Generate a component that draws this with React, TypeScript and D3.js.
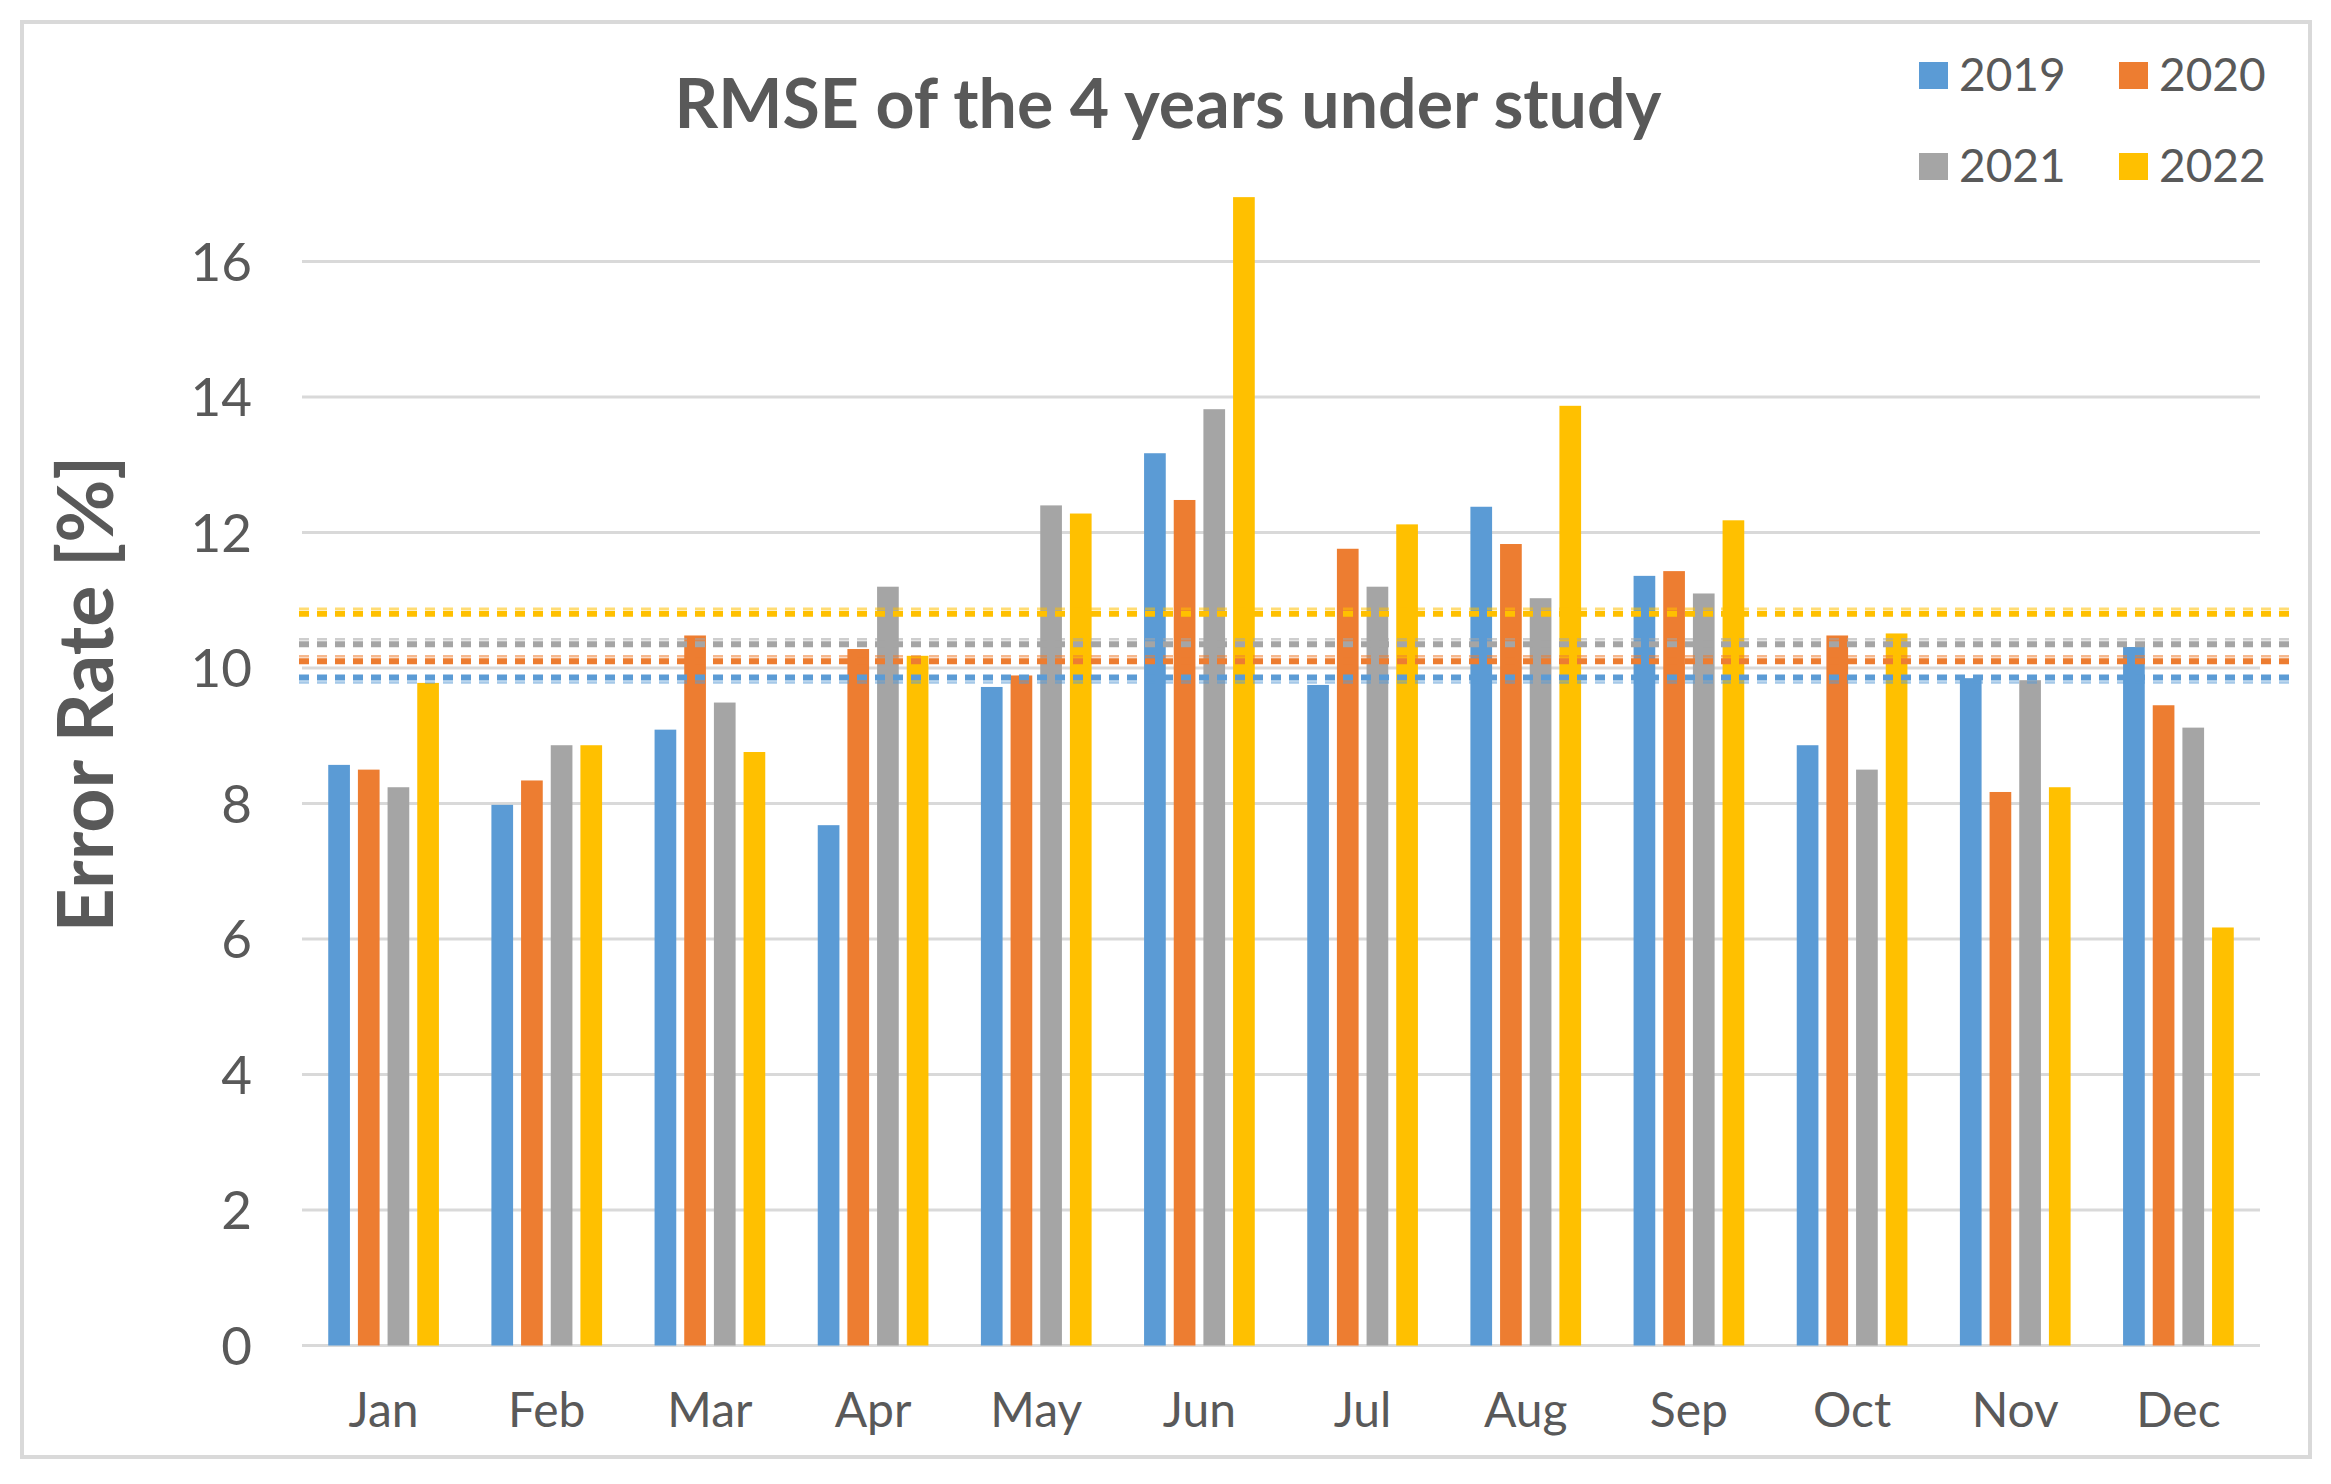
import * as d3 from 'd3';

const months = ['Jan', 'Feb', 'Mar', 'Apr', 'May', 'Jun', 'Jul', 'Aug', 'Sep', 'Oct', 'Nov', 'Dec'];
const years = ['2019', '2020', '2021', '2022'];

const rmse2019 = [8.57, 7.98, 9.09, 7.68, 9.72, 13.17, 9.75, 12.38, 11.36, 8.86, 9.85, 10.31];
const rmse2020 = [8.5, 8.34, 10.48, 10.28, 9.89, 12.48, 11.76, 11.83, 11.43, 10.48, 8.17, 9.45];
const rmse2021 = [8.24, 8.86, 9.49, 11.2, 12.4, 13.82, 11.2, 11.03, 11.1, 8.5, 9.82, 9.12];
const rmse2022 = [9.78, 8.86, 8.76, 10.18, 12.28, 16.95, 12.12, 13.87, 12.18, 10.51, 8.24, 6.17];

// dotted reference lines, one per year
const averages = [9.86, 10.1, 10.35, 10.8];

const yTicks = [0, 2, 4, 6, 8, 10, 12, 14, 16];

const colors = ['#5B9BD5', '#ED7D31', '#A5A5A5', '#FFC000'];
const series = [rmse2019, rmse2020, rmse2021, rmse2022];

const width = 2331;
const height = 1484;
const plot = { left: 302, right: 2260, top: 261.5, bottom: 1345.5 };
const font = 'Lato, "Open Sans", sans-serif';
const textColor = '#595959';

const App = () => {
  const x0 = d3
    .scaleBand()
    .domain(months)
    .range([plot.left, plot.right])
    .paddingInner(0.3216)
    .paddingOuter(0.1608);
  const x1 = d3.scaleBand().domain(years).range([0, x0.bandwidth()]).paddingInner(0.269);
  const y = d3.scaleLinear().domain([0, 16]).range([plot.bottom, plot.top]);

  return (
    <svg
      width={width}
      height={height}
      viewBox={`0 0 ${width} ${height}`}
      style={{ position: 'absolute', left: 0, top: 0, background: '#fff' }}
    >
      <rect x={22} y={22} width={2288} height={1435} fill="#fff" stroke="#d9d9d9" strokeWidth={4} />

      <text
        x={1168}
        y={128}
        textAnchor="middle"
        fontFamily={font}
        fontWeight="bold"
        fontSize={68}
        fill={textColor}
      >
        RMSE of the 4 years under study
      </text>

      {yTicks.map(t => (
        <g key={t}>
          <line x1={plot.left} x2={plot.right} y1={y(t)} y2={y(t)} stroke="#d9d9d9" strokeWidth={3} />
          <text
            x={252}
            y={y(t)}
            dy="0.36em"
            textAnchor="end"
            fontFamily={font}
            fontSize={53}
            fill={textColor}
          >
            {t}
          </text>
        </g>
      ))}

      <text
        transform={`translate(113, 694) rotate(-90)`}
        textAnchor="middle"
        fontFamily={font}
        fontWeight="bold"
        fontSize={77}
        fill={textColor}
      >
        Error Rate [%]
      </text>

      {months.map((m, i) => (
        <g key={m} transform={`translate(${x0(m)}, 0)`}>
          {years.map((yr, j) => (
            <rect
              key={yr}
              x={x1(yr)}
              y={y(series[j][i])}
              width={x1.bandwidth()}
              height={y(0) - y(series[j][i])}
              fill={colors[j]}
            />
          ))}
          <text
            x={x0.bandwidth() / 2}
            y={1427}
            textAnchor="middle"
            fontFamily={font}
            fontSize={48}
            fill={textColor}
          >
            {m}
          </text>
        </g>
      ))}

      {averages.map((a, j) => {
        // the faint edge row sits below the blue line, above the others
        const edge = j === 0 ? 5 : -5;
        return (
          <g key={years[j]}>
            <line
              x1={299}
              x2={2297}
              y1={y(a) + edge}
              y2={y(a) + edge}
              stroke={colors[j]}
              strokeOpacity={0.55}
              strokeWidth={2.5}
              strokeDasharray="10 8"
            />
            <line
              x1={299}
              x2={2297}
              y1={y(a)}
              y2={y(a)}
              stroke={colors[j]}
              strokeWidth={6}
              strokeDasharray="10 8"
            />
          </g>
        );
      })}

      {years.map((yr, j) => {
        const col = j % 2;
        const row = Math.floor(j / 2);
        const lx = 1919 + col * 200;
        const ly = 62 + row * 91;
        return (
          <g key={yr}>
            <rect x={lx} y={ly} width={29} height={27} fill={colors[j]} />
            <text x={lx + 40} y={ly + 29} fontFamily={font} fontSize={46} fill={textColor}>
              {yr}
            </text>
          </g>
        );
      })}
    </svg>
  );
};

export default App;
